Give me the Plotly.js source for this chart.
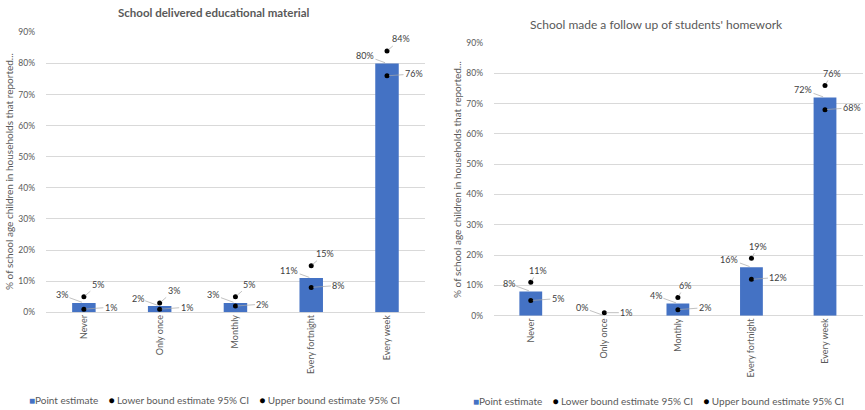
<!DOCTYPE html>
<html>
<head>
<meta charset="utf-8">
<script src="https://cdn.plot.ly/plotly-3.0.1.min.js"></script>
<style>
  html, body { margin: 0; padding: 0; background: #ffffff; }
  #chart { width: 865px; height: 410px; }
</style>
</head>
<body>
<div id="chart"></div>
<script>
// Frequency categories shared by both panels
const categories = ['Never', 'Only once', 'Monthly', 'Every fortnight', 'Every week'];

// Panel 1: school delivered educational material (%)
const deliveredPoint = [3, 2, 3, 11, 80];
const deliveredLower = [1, 1, 2, 8, 76];
const deliveredUpper = [5, 3, 5, 15, 84];

// Panel 2: school made a follow up of students' homework (%)
const homeworkPoint = [8, 0, 4, 16, 72];
const homeworkLower = [5, null, 2, 12, 68];
const homeworkUpper = [11, 1, 6, 19, 76];

const yTicks = [0, 10, 20, 30, 40, 50, 60, 70, 80, 90];

const panelTitles = ['School delivered educational material', "School made a follow up of students' homework"];
const yTitle = '% of school age children in households that reported...';
const seriesNames = ['Point estimate', 'Lower bound estimate 95% CI', 'Upper bound estimate 95% CI'];

const BAR = '#4472C4';
const TXT = '#595959';
const LBL = '#404040';
const GRID = '#d9d9d9';
const FONT = 'Lato, "Open Sans", sans-serif';
const NB = '\u00a0';

function panelTraces(point, lower, upper, xa, ya) {
  return [
    { type: 'bar', x: categories, y: point, name: seriesNames[0], xaxis: xa, yaxis: ya,
      marker: { color: BAR }, hoverinfo: 'skip' },
    { type: 'scatter', mode: 'markers', x: categories, y: lower, name: seriesNames[1], xaxis: xa, yaxis: ya,
      marker: { color: '#000000', size: 5 }, hoverinfo: 'skip' },
    { type: 'scatter', mode: 'markers', x: categories, y: upper, name: seriesNames[2], xaxis: xa, yaxis: ya,
      marker: { color: '#000000', size: 5 }, hoverinfo: 'skip' }
  ];
}

// Value labels with thin leader lines, placed by pixel offsets from each mark
function panelLabels(point, lower, upper, xr, yr, upOff) {
  const out = [];
  const base = { xref: xr, yref: yr, showarrow: true, arrowhead: 0, arrowwidth: 0.7,
                 arrowcolor: '#a6a6a6', standoff: 2, startstandoff: 0,
                 font: { family: FONT, size: 9, color: LBL } };
  categories.forEach((c, i) => {
    out.push(Object.assign({}, base, { x: c, y: point[i], text: point[i] + '%', ax: -22, ay: -8 }));
    if (lower[i] !== null) {
      out.push(Object.assign({}, base, { x: c, y: lower[i], text: lower[i] + '%', ax: 27, ay: -2 }));
    }
    if (upper[i] !== null) {
      const alone = lower[i] === null;
      out.push(Object.assign({}, base, { x: c, y: upper[i], text: upper[i] + '%',
        ax: alone ? 22 : upOff[0], ay: alone ? 0 : upOff[1] }));
    }
  });
  return out;
}

// Legend line drawn as text: blue square for the bars, black dots for the bounds
function legendText() {
  const gap = NB + NB + NB + NB;
  const dot = '<span style="color:#000000">●</span>';
  return '<span style="color:' + BAR + '">■</span>' + seriesNames[0] +
         gap + dot + NB + seriesNames[1] + gap + dot + NB + seriesNames[2];
}

function paperText(x, y, text, size, extra) {
  return Object.assign({ xref: 'paper', yref: 'paper', x: x / 865, y: 1 - y / 410,
    xanchor: 'center', yanchor: 'middle', showarrow: false, text: text,
    font: { family: FONT, size: size, color: TXT } }, extra || {});
}

const traces = [].concat(
  panelTraces(deliveredPoint, deliveredLower, deliveredUpper, 'x', 'y'),
  panelTraces(homeworkPoint, homeworkLower, homeworkUpper, 'x2', 'y2')
);

const xaxisBase = {
  type: 'category', tickangle: -90, showgrid: false, showline: false, zeroline: false, ticks: '',
  tickfont: { family: FONT, size: 9, color: TXT }, fixedrange: true
};
const yaxisBase = {
  range: [0, 90], tickvals: yTicks, ticktext: yTicks.map(v => v + '%'),
  showgrid: true, gridcolor: GRID, gridwidth: 1, zeroline: true, zerolinecolor: GRID, zerolinewidth: 1,
  showline: false, ticks: '', ticklabelstandoff: 10,
  tickfont: { family: FONT, size: 8.5, color: TXT }, fixedrange: true
};

const annotations = [].concat(
  panelLabels(deliveredPoint, deliveredLower, deliveredUpper, 'x', 'y', [14, -12]),
  panelLabels(homeworkPoint, homeworkLower, homeworkUpper, 'x2', 'y2', [7, -12]),
  [
    paperText(213, 12, '<b>' + panelTitles[0] + '</b>', 11.5),
    paperText(656, 24, panelTitles[1], 12),
    paperText(9, 172, yTitle, 10, { textangle: -90 }),
    paperText(457, 180, yTitle, 10, { textangle: -90 }),
    paperText(214, 400, legendText(), 10),
    paperText(658, 401, legendText(), 10)
  ]
);

const layout = {
  width: 865, height: 410,
  margin: { l: 0, r: 0, t: 0, b: 0 },
  paper_bgcolor: '#ffffff', plot_bgcolor: '#ffffff',
  bargap: 0.69,
  showlegend: false,
  xaxis: Object.assign({}, xaxisBase, { domain: [46 / 865, 425 / 865], anchor: 'y' }),
  yaxis: Object.assign({}, yaxisBase, { domain: [1 - 312.3 / 410, 1 - 32.3 / 410], anchor: 'x' }),
  xaxis2: Object.assign({}, xaxisBase, { domain: [494 / 865, 863 / 865], anchor: 'y2' }),
  yaxis2: Object.assign({}, yaxisBase, { domain: [1 - 315.7 / 410, 1 - 43 / 410], anchor: 'x2' }),
  annotations: annotations
};

Plotly.newPlot('chart', traces, layout, { displayModeBar: false, staticPlot: true });
</script>
</body>
</html>
